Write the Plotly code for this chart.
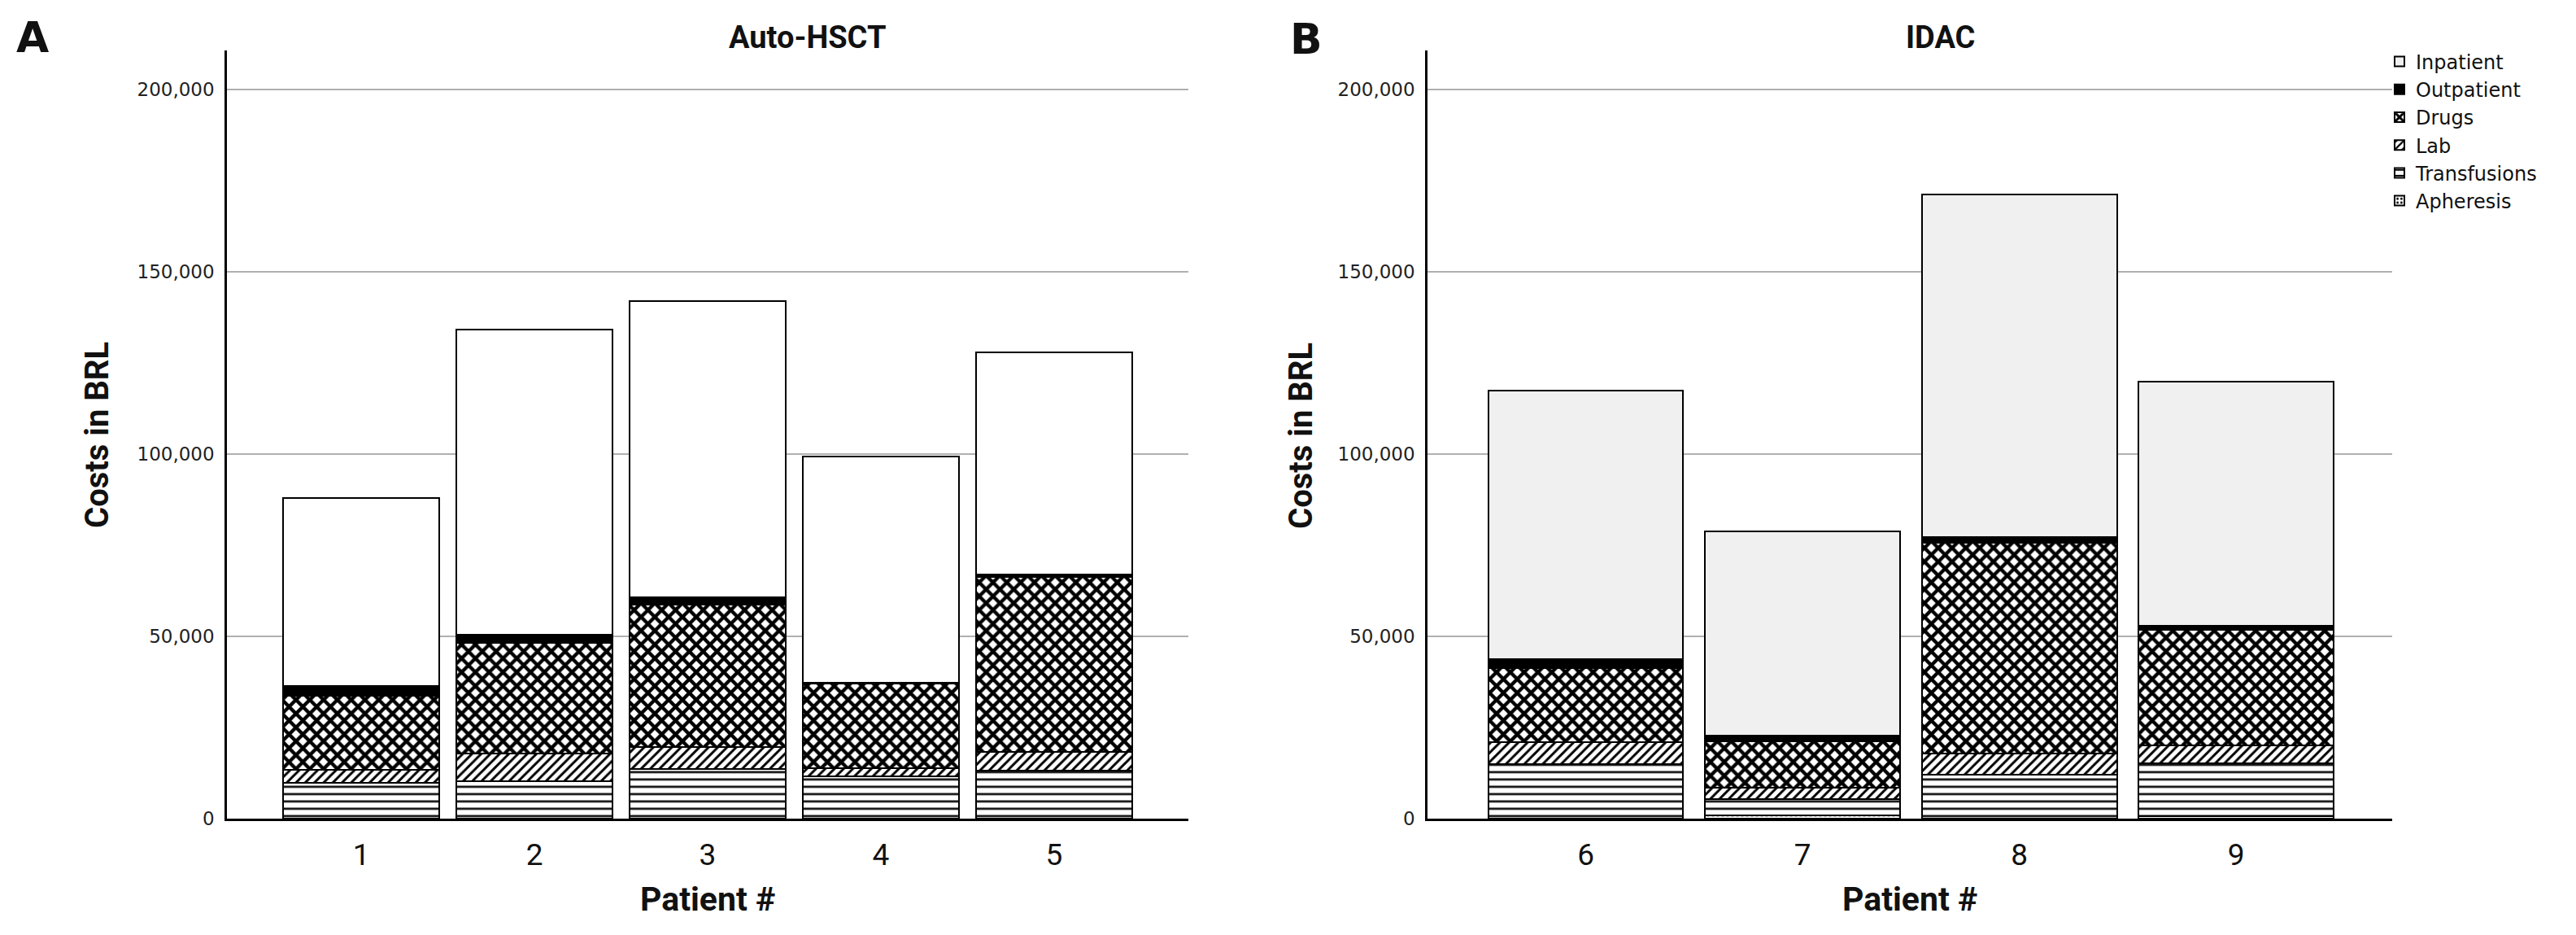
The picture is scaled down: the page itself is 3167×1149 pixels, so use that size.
import plotly.graph_objects as go

# ---------------- data ----------------
patients_a = [1, 2, 3, 4, 5]
patients_b = [6, 7, 8, 9]
tick_labels_a = ["1", "2", "3", "4", "5"]
tick_labels_b = ["6", "7", "8", "9"]

categories = ["Apheresis", "Transfusions", "Lab", "Drugs", "Outpatient", "Inpatient"]

apheresis_a = [0, 0, 0, 0, 0]
transfusions_a = [9800, 10200, 13700, 11700, 13100]
lab_a = [3700, 7600, 5900, 2100, 5300]
drugs_a = [20300, 30500, 39200, 23200, 48000]
outpatient_a = [2700, 2100, 1900, 400, 700]
inpatient_a = [51400, 83800, 81400, 62000, 60900]

apheresis_b = [0, 900, 0, 700]
transfusions_b = [14900, 4400, 12000, 14600]
lab_b = [6200, 3200, 5900, 4900]
drugs_b = [20200, 12800, 57900, 31700]
outpatient_b = [2500, 1500, 1400, 1100]
inpatient_b = [73700, 56000, 94000, 66900]

y_ticks = [0, 50000, 100000, 150000, 200000]

# ---------------- styles ----------------
W, H = 3167, 1149
NARROW = "Roboto, Liberation Sans Narrow, sans-serif"
WIDE = "DejaVu Sans, Verdana, sans-serif"

def pat(shape, size, solidity):
    return dict(shape=shape, fgcolor="black", bgcolor="white", size=size,
                solidity=solidity, fgopacity=1, fillmode="replace")

styles = {
    "Apheresis": dict(color="white", pattern=pat(".", 6, 0.3)),
    "Transfusions": dict(color="white", pattern=pat("-", 9, 0.28)),
    "Lab": dict(color="white", pattern=pat("/", 8, 0.36)),
    "Drugs": dict(color="white", pattern=pat("x", 12, 0.6)),
    "Outpatient": dict(color="black", pattern=dict(shape="")),
    "Inpatient": dict(color="white", pattern=dict(shape="")),
}

fig = go.Figure()

series_a = [apheresis_a, transfusions_a, lab_a, drugs_a, outpatient_a, inpatient_a]
series_b = [apheresis_b, transfusions_b, lab_b, drugs_b, outpatient_b, inpatient_b]

for name, vals in zip(categories, series_a):
    st = styles[name]
    fig.add_trace(go.Bar(
        x=patients_a, y=vals, name=name, showlegend=False, legendgroup=name,
        marker=dict(color=st["color"], pattern=st["pattern"], line=dict(color="black", width=2)),
        xaxis="x", yaxis="y",
    ))

for name, vals in zip(categories, series_b):
    st = styles[name]
    color = "#f0f0f0" if name == "Inpatient" else st["color"]
    fig.add_trace(go.Bar(
        x=patients_b, y=vals, name=name, showlegend=True, legendgroup=name,
        marker=dict(color=color, pattern=st["pattern"], line=dict(color="black", width=2)),
        xaxis="x2", yaxis="y2",
    ))

y_top = 1 - 55 / H
y_bot = 1 - 1009.5 / H

yaxis_common = dict(
    range=[0, 210700], tickvals=y_ticks, tickformat=",d",
    showgrid=True, gridcolor="#b0b0b0", gridwidth=2,
    showline=True, linecolor="black", linewidth=2.5,
    zeroline=False, ticks="", ticklabelstandoff=8,
    tickfont=dict(family=WIDE, size=23, color="#222222"),
    domain=[y_bot, y_top], fixedrange=True,
)
xaxis_common = dict(
    showgrid=False, showline=True, linecolor="black", linewidth=2.5,
    zeroline=False, ticks="", ticklabelstandoff=10,
    tickfont=dict(family=NARROW, size=37, color="#111111"),
)

fig.update_layout(
    width=W, height=H, autosize=False,
    margin=dict(l=0, r=0, t=0, b=0),
    paper_bgcolor="white", plot_bgcolor="white",
    barmode="stack", bargap=0.1,
    xaxis=dict(domain=[271 / W, 1453 / W], range=[0.225, 5.775],
               tickvals=patients_a, ticktext=tick_labels_a, anchor="y", **xaxis_common),
    yaxis=dict(anchor="x", **yaxis_common),
    xaxis2=dict(domain=[1747 / W, 2933 / W], range=[5.27, 9.72],
                tickvals=patients_b, ticktext=tick_labels_b, anchor="y2", **xaxis_common),
    yaxis2=dict(anchor="x2", **yaxis_common),
    legend=dict(
        x=2922 / W, y=1 - 46 / H, xanchor="left", yanchor="top",
        traceorder="reversed", tracegroupgap=0,
        font=dict(family=WIDE, size=24, color="#111111"),
        bgcolor="rgba(255,255,255,0)", borderwidth=0,
    ),
)

ann = []
def text(x, y, s, size, family, bold=True, angle=0, xanchor="center", yanchor="middle"):
    ann.append(dict(
        x=x / W, y=1 - y / H, xref="paper", yref="paper", text=(f"<b>{s}</b>" if bold else s),
        showarrow=False, xanchor=xanchor, yanchor=yanchor, textangle=angle,
        font=dict(family=family, size=size, color="#111111"),
    ))

text(32, 38, "A", 52, "DejaVu Sans")
text(1598, 40, "B", 52, "DejaVu Sans")
text(985, 38, "Auto-HSCT", 38, NARROW)
text(2378, 38, "IDAC", 38, NARROW)
text(112, 533, "Costs in BRL", 40, NARROW, angle=-90)
text(1592, 533, "Costs in BRL", 40, NARROW, angle=-90)
text(862, 1110, "Patient #", 41, NARROW)
text(2340, 1110, "Patient #", 41, NARROW)
fig.update_layout(annotations=ann)

fig.write_html("out.html")
